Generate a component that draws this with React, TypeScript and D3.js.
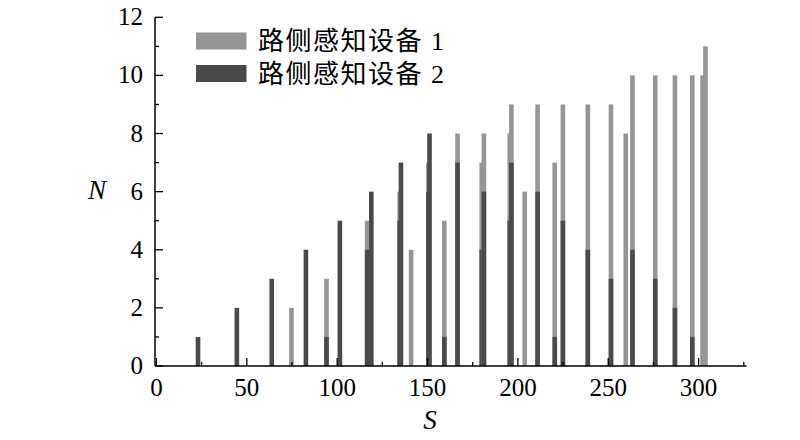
import { useEffect, useRef } from "react";
import * as d3 from "d3";

// 각 막대의 S 위치 (같은 위치에 두 장치가 겹쳐서 그려짐)
const positions = [
  23.0, 44.5, 63.8, 74.7, 82.7, 94.1, 101.5, 116.6, 118.9, 134.6, 135.3,
  140.9, 150.5, 151.1, 159.3, 166.6, 180.0, 181.2, 195.5, 196.4, 203.8,
  210.9, 220.4, 224.9, 238.7, 251.5, 259.7, 263.4, 276.0, 286.9, 296.5,
  302.2, 303.8,
];
// 路侧感知设备 1
const device1 = [
  0, 0, 0, 2, 0, 3, 0, 5, 0, 6, 0, 4, 7, 0, 5, 8, 7, 8, 8, 9, 6, 9, 7, 9, 9,
  9, 8, 10, 10, 10, 10, 10, 11,
];
// 路侧感知设备 2
const device2 = [
  1, 2, 3, 0, 4, 1, 5, 4, 6, 5, 7, 0, 6, 8, 1, 7, 4, 6, 5, 7, 0, 6, 1, 5, 4,
  3, 0, 4, 3, 2, 1, 0, 0,
];
const seriesNames = ["路侧感知设备 1", "路侧感知设备 2"];
const xTicks = [0, 50, 100, 150, 200, 250, 300];
const yTicks = [0, 2, 4, 6, 8, 10, 12];

export default function App() {
  const svgRef = useRef<SVGSVGElement>(null);

  useEffect(() => {
    document.body.style.margin = "0";
    if (!svgRef.current) return;
    const svg = d3.select(svgRef.current);
    svg.selectAll("*").remove();

    const colors = ["#959595", "#4a4a4a"];
    const barW = 2.55;

    const x = d3.scaleLinear().domain([-0.8, 326.5]).range([155, 746.5]);
    const y = d3.scaleLinear().domain([0, 12]).range([366, 17.3]);

    // 막대: 위치마다 장치1 먼저, 그 위에 장치2
    const g = svg.append("g");
    positions.forEach((s, i) => {
      [device1[i], device2[i]].forEach((v, k) => {
        if (v <= 0) return;
        g.append("rect")
          .attr("x", x(s - barW / 2))
          .attr("width", x(s + barW / 2) - x(s - barW / 2))
          .attr("y", y(v))
          .attr("height", y(0) - y(v))
          .attr("fill", colors[k]);
      });
    });

    // x축
    const xAxis = svg.append("g");
    xAxis
      .append("line")
      .attr("x1", 155)
      .attr("x2", x(326.5))
      .attr("y1", y(0))
      .attr("y2", y(0))
      .attr("stroke", "#000")
      .attr("stroke-width", 1.5);
    d3.range(0, 326, 25).forEach((t) => {
      const major = t % 50 === 0;
      xAxis
        .append("line")
        .attr("x1", x(t))
        .attr("x2", x(t))
        .attr("y1", y(0))
        .attr("y2", y(0) - (major ? 8 : 4))
        .attr("stroke", "#000")
        .attr("stroke-width", 1.3);
    });
    xAxis
      .selectAll("text")
      .data(xTicks)
      .enter()
      .append("text")
      .attr("x", (d) => x(d))
      .attr("y", 396)
      .attr("text-anchor", "middle")
      .attr("font-size", 25)
      .text((d) => d);

    // y축
    const yAxis = svg.append("g");
    yAxis
      .append("line")
      .attr("x1", 155)
      .attr("x2", 155)
      .attr("y1", y(0))
      .attr("y2", y(12))
      .attr("stroke", "#000")
      .attr("stroke-width", 1.5);
    d3.range(0, 13, 1).forEach((t) => {
      const major = t % 2 === 0;
      yAxis
        .append("line")
        .attr("x1", 155)
        .attr("x2", 155 + (major ? 8 : 4))
        .attr("y1", y(t))
        .attr("y2", y(t))
        .attr("stroke", "#000")
        .attr("stroke-width", 1.3);
    });
    yAxis
      .selectAll("text")
      .data(yTicks)
      .enter()
      .append("text")
      .attr("x", 143)
      .attr("y", (d) => y(d) + 8)
      .attr("text-anchor", "end")
      .attr("font-size", 25)
      .text((d) => d);

    // 축 제목
    svg
      .append("text")
      .attr("x", 97)
      .attr("y", 199)
      .attr("text-anchor", "middle")
      .attr("font-style", "italic")
      .attr("font-size", 27)
      .text("N");
    svg
      .append("text")
      .attr("x", 430)
      .attr("y", 429)
      .attr("text-anchor", "middle")
      .attr("font-style", "italic")
      .attr("font-size", 27)
      .text("S");

    // 범례
    const legend = svg.append("g");
    seriesNames.forEach((name, i) => {
      const cy = 41 + i * 32.5;
      legend
        .append("rect")
        .attr("x", 196)
        .attr("y", cy - 8.5)
        .attr("width", 50.5)
        .attr("height", 17)
        .attr("fill", colors[i]);
      legend
        .append("text")
        .attr("x", 258)
        .attr("y", cy + 9)
        .attr("font-size", 26)
        .attr("letter-spacing", 1.5)
        .text(name);
    });
  }, []);

  return (
    <svg
      ref={svgRef}
      width={800}
      height={440}
      style={{
        display: "block",
        fontFamily: '"Liberation Serif", "Noto Sans CJK SC", serif',
      }}
    />
  );
}
